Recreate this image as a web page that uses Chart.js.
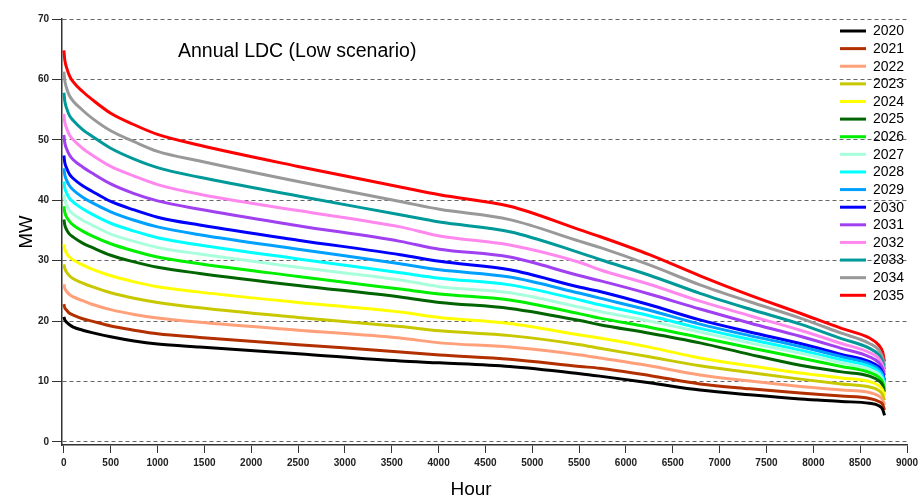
<!DOCTYPE html>
<html>
<head>
<meta charset="utf-8">
<title>Annual LDC (Low scenario)</title>
<script src="https://cdn.jsdelivr.net/npm/chart.js@4.4.0/dist/chart.umd.min.js"></script>
<style>
  html, body { margin: 0; padding: 0; background: #fff; }
  #wrap { width: 920px; height: 497px; }
</style>
</head>
<body>
<div id="wrap"><canvas id="ldc" width="920" height="497"></canvas></div>
<script>
// sorted hourly load (load duration curve), MW
const hours = [0, 10, 30, 60, 100, 200, 300, 500, 750, 1000, 1450, 2500, 3590, 4010, 4760, 5510, 5720, 6250, 6790, 7320, 7860, 8300, 8600, 8700, 8740, 8760];

const years = ['2020', '2021', '2022', '2023', '2024', '2025', '2026', '2027', '2028', '2029', '2030', '2031', '2032', '2033', '2034', '2035'];

const mw2020 = [20.7, 20.2, 19.8, 19.4, 19.0, 18.5, 18.1, 17.4, 16.7, 16.2, 15.7, 14.6, 13.4, 13.1, 12.5, 11.3, 10.9, 9.8, 8.6, 7.8, 7.1, 6.7, 6.4, 6.0, 5.4, 4.4];
const mw2021 = [22.8, 22.2, 21.8, 21.3, 21.0, 20.4, 20.0, 19.2, 18.5, 17.9, 17.3, 16.1, 14.9, 14.4, 13.7, 12.5, 12.2, 11.0, 9.6, 8.8, 8.1, 7.6, 7.2, 6.7, 6.2, 5.3];
const mw2022 = [26.1, 25.4, 24.9, 24.4, 24.0, 23.4, 22.8, 21.9, 21.1, 20.5, 19.8, 18.5, 17.2, 16.4, 15.7, 14.4, 13.9, 12.6, 11.1, 10.1, 9.2, 8.6, 8.2, 7.6, 7.0, 6.1];
const mw2023 = [29.4, 28.7, 28.1, 27.5, 27.0, 26.3, 25.7, 24.7, 23.8, 23.1, 22.2, 20.6, 19.1, 18.4, 17.6, 16.1, 15.5, 14.1, 12.6, 11.5, 10.4, 9.6, 9.1, 8.5, 7.8, 6.9];
const mw2024 = [32.7, 31.9, 31.2, 30.6, 30.1, 29.3, 28.6, 27.5, 26.5, 25.7, 24.8, 23.1, 21.5, 20.6, 19.6, 17.7, 17.2, 15.7, 13.9, 12.6, 11.4, 10.6, 10.0, 9.3, 8.6, 7.6];
const mw2025 = [36.8, 35.9, 35.1, 34.4, 33.9, 32.9, 32.2, 30.9, 29.8, 28.9, 27.9, 25.9, 24.0, 23.1, 22.1, 20.1, 19.4, 18.0, 16.4, 14.5, 12.7, 11.6, 10.9, 10.1, 9.4, 8.3];
const mw2026 = [39.0, 38.0, 37.2, 36.5, 35.9, 34.9, 34.1, 32.8, 31.6, 30.6, 29.5, 27.4, 25.3, 24.5, 23.5, 21.2, 20.5, 19.0, 17.3, 15.6, 13.9, 12.5, 11.5, 10.7, 9.9, 8.8];
const mw2027 = [41.0, 40.0, 39.2, 38.3, 37.7, 36.7, 35.9, 34.4, 33.2, 32.2, 31.1, 28.9, 26.8, 25.7, 24.7, 22.3, 21.6, 20.0, 18.2, 16.4, 14.7, 13.1, 12.0, 11.2, 10.3, 9.2];
const mw2028 = [43.1, 42.0, 41.2, 40.3, 39.7, 38.6, 37.7, 36.2, 34.9, 33.8, 32.6, 30.3, 28.0, 27.1, 26.0, 23.5, 22.7, 20.9, 18.8, 17.0, 15.2, 13.6, 12.5, 11.6, 10.7, 9.6];
const mw2029 = [45.3, 44.2, 43.3, 42.4, 41.7, 40.5, 39.6, 38.1, 36.7, 35.6, 34.3, 31.9, 29.5, 28.5, 27.3, 24.6, 23.8, 21.8, 19.5, 17.6, 15.8, 14.1, 12.9, 12.0, 11.1, 9.9];
const mw2030 = [47.4, 46.2, 45.3, 44.3, 43.6, 42.4, 41.5, 39.8, 38.4, 37.2, 35.9, 33.4, 31.0, 29.9, 28.5, 25.6, 24.9, 22.7, 20.2, 18.2, 16.3, 14.5, 13.3, 12.4, 11.4, 10.2];
const mw2031 = [50.8, 49.5, 48.5, 47.5, 46.7, 45.5, 44.5, 42.7, 41.1, 39.9, 38.5, 35.8, 33.2, 31.9, 30.6, 27.5, 26.7, 24.5, 22.0, 19.7, 17.5, 15.5, 14.1, 13.1, 12.1, 11.0];
const mw2032 = [54.3, 52.9, 51.9, 50.8, 50.0, 48.6, 47.5, 45.6, 44.0, 42.6, 41.0, 38.3, 35.6, 34.1, 32.6, 29.7, 28.5, 26.1, 23.3, 20.9, 18.5, 16.3, 14.8, 13.8, 12.7, 11.5];
const mw2033 = [57.8, 56.4, 55.2, 54.0, 53.2, 51.7, 50.6, 48.6, 46.8, 45.4, 43.8, 40.7, 37.6, 36.4, 34.8, 31.3, 30.2, 27.6, 24.6, 22.0, 19.5, 17.1, 15.5, 14.4, 13.3, 12.0];
const mw2034 = [61.3, 59.8, 58.5, 57.3, 56.4, 54.9, 53.6, 51.5, 49.7, 48.1, 46.5, 43.1, 39.8, 38.5, 36.8, 33.2, 32.2, 29.3, 26.0, 23.2, 20.5, 18.0, 16.3, 15.2, 14.0, 12.6];
const mw2035 = [64.8, 63.2, 61.9, 60.6, 59.6, 58.0, 56.7, 54.4, 52.5, 50.9, 49.1, 45.6, 42.2, 40.9, 39.0, 35.1, 34.0, 31.0, 27.5, 24.3, 21.3, 18.8, 17.2, 16.0, 14.9, 13.3];

const xTicks = [0, 500, 1000, 1500, 2000, 2500, 3000, 3500, 4000, 4500, 5000, 5500, 6000, 6500, 7000, 7500, 8000, 8500, 9000];
const yTicks = [0, 10, 20, 30, 40, 50, 60, 70];

const seriesValues = [mw2020, mw2021, mw2022, mw2023, mw2024, mw2025, mw2026, mw2027, mw2028, mw2029, mw2030, mw2031, mw2032, mw2033, mw2034, mw2035];
const lineColors = ['#000000', '#b22f00', '#ffa07a', '#c8c800', '#ffff00', '#006400', '#00ee00', '#a8ffdc', '#00ffff', '#00a0ff', '#0000ff', '#a040f0', '#ff88ee', '#009999', '#999999', '#ff0000'];

const tickFont = { family: '"Liberation Sans", Arial, sans-serif', size: 10, weight: 'bold' };

// title, legend and axis names drawn on top of the plot
const overlay = {
  id: 'overlay',
  afterDraw(chart) {
    const ctx = chart.ctx;
    ctx.save();
    ctx.fillStyle = '#000';
    ctx.textBaseline = 'alphabetic';
    ctx.textAlign = 'left';
    ctx.font = '19.5px "Liberation Sans", Arial, sans-serif';
    ctx.fillText('Annual LDC (Low scenario)', 178, 57);

    ctx.font = '14px "Liberation Sans", Arial, sans-serif';
    ctx.textBaseline = 'middle';
    chart.data.datasets.forEach((ds, i) => {
      const y = 31 + i * 17.62;
      ctx.strokeStyle = ds.borderColor;
      ctx.lineWidth = 3;
      ctx.beginPath();
      ctx.moveTo(840, y);
      ctx.lineTo(866, y);
      ctx.stroke();
      ctx.fillText(ds.label, 873, y + 0.5);
    });

    ctx.font = '19px "Liberation Sans", Arial, sans-serif';
    ctx.textAlign = 'center';
    ctx.textBaseline = 'alphabetic';
    ctx.fillText('Hour', 471, 495);

    ctx.translate(32, 232);
    ctx.rotate(-Math.PI / 2);
    ctx.font = '18.5px "Liberation Sans", Arial, sans-serif';
    ctx.fillText('MW', 0, 0);
    ctx.restore();
  }
};

new Chart(document.getElementById('ldc'), {
  type: 'line',
  data: {
    datasets: years.map((yr, i) => ({
      label: yr,
      data: hours.map((h, k) => ({ x: h, y: seriesValues[i][k] })),
      borderColor: lineColors[i],
      borderWidth: 3,
      pointRadius: 0,
      fill: false,
      cubicInterpolationMode: 'monotone'
    }))
  },
  options: {
    responsive: false,
    animation: false,
    events: [],
    layout: { padding: { top: 19, right: 13, left: 0, bottom: 0 } },
    plugins: {
      legend: { display: false },
      tooltip: { enabled: false }
    },
    scales: {
      x: {
        type: 'linear',
        min: -20,
        max: 9000,
        afterBuildTicks: scale => { scale.ticks = xTicks.map(v => ({ value: v })); },
        afterFit: scale => {
          scale.height = 52;
          scale.paddingLeft = 0;
          scale.paddingRight = 0;
        },
        ticks: {
          color: '#222',
          font: tickFont,
          padding: 4,
          maxRotation: 0,
          autoSkip: false,
          callback: v => String(v)
        },
        grid: { drawOnChartArea: false, tickLength: 8, tickColor: '#333', tickWidth: 1 },
        border: { color: '#333', width: 1.5 }
      },
      y: {
        min: -0.5,
        max: 70,
        afterBuildTicks: scale => { scale.ticks = yTicks.map(v => ({ value: v })); },
        afterFit: scale => { scale.width = 62; },
        ticks: {
          color: '#222',
          font: tickFont,
          padding: 3,
          autoSkip: false,
          callback: v => String(v)
        },
        grid: { color: '#666', lineWidth: 1, tickLength: 10, tickColor: '#333', tickWidth: 1 },
        border: { color: '#333', width: 1.5, dash: [4, 3] }
      }
    }
  },
  plugins: [overlay]
});
</script>
</body>
</html>
